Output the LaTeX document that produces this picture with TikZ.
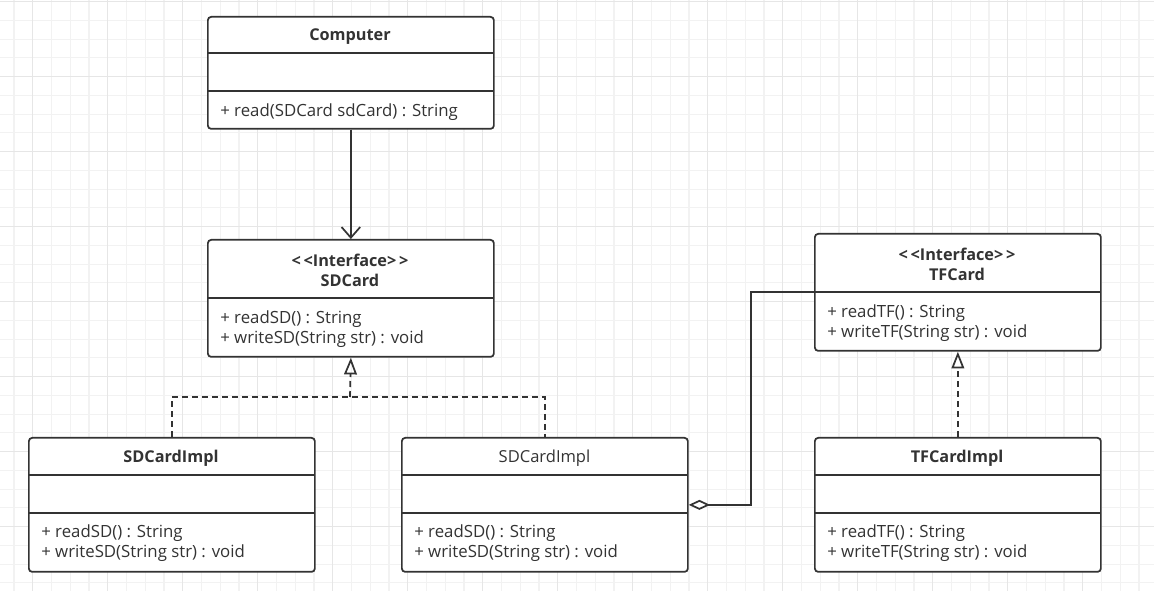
\documentclass[tikz,border=0pt]{standalone}
\usepackage{fontspec}
\setmainfont{Open Sans}
\usetikzlibrary{arrows.meta}
\definecolor{ln}{HTML}{333333}
\definecolor{gminor}{HTML}{F2F2F2}
\definecolor{gmajor}{HTML}{E6E6E6}
\begin{document}
\begin{tikzpicture}[x=0.75pt,y=-0.75pt,
  cls/.style={draw=ln, fill=white, line width=1.3pt, rounded corners=2.5pt, anchor=north west, minimum width=214.5pt, inner sep=0pt},
  sep/.style={draw=ln, line width=1.3pt},
  ttl/.style={font=\bfseries\fontsize{12.2}{15}\selectfont, text=ln, align=center, inner sep=0pt},
  ttln/.style={font=\fontsize{12.4}{15}\selectfont, text=ln, inner sep=0pt},
  mem/.style={font=\fontsize{12.6}{15}\selectfont, text=ln, align=left, anchor=west, inner sep=0pt},
  conn/.style={draw=ln, line width=1.3pt},
  real/.style={conn, dash pattern=on 4.5pt off 3pt},
  tri/.style={-{Triangle[open, length=12.5pt, width=9.5pt, line width=1.3pt]}},
  barb/.style={-{Straight Barb[length=8pt, width=14pt, line width=1.3pt]}},
  dia/.style={{Diamond[open, length=16pt, width=7.5pt, line width=1.3pt]}-},
  minor/.style={draw=gminor, line width=0.8pt},
  major/.style={draw=gmajor, line width=0.9pt}]
\useasboundingbox (0,0) rectangle (1154,591);
\fill[white] (0,0) rectangle (1154,591);
% grid
\foreach \i in {0,...,61} { \draw[minor] ({14+18.75*\i},0) -- ({14+18.75*\i},591); }
\foreach \i in {0,...,31} { \draw[minor] (0,{1.7+18.75*\i}) -- (1154,{1.7+18.75*\i}); }
\foreach \i in {0,...,15} { \draw[major] ({32.7+75*\i},0) -- ({32.7+75*\i},591); }
\foreach \i in {0,...,7} { \draw[major] (0,{1.7+75*\i}) -- (1154,{1.7+75*\i}); }

% Computer
\node[cls, minimum height=84pt] (comp) at (207,16) {};
\draw[sep] (207,53) -- (493,53);
\draw[sep] (207,91) -- (493,91);
\node[ttl] (compt) at (350,37) {Computer};
\node[mem] (compm) at (220,112.5) {+ read(SDCard sdCard) : String};

% SDCard
\node[cls, minimum height=87.75pt] (sd) at (207,239) {};
\draw[sep] (207,298) -- (493,298);
\node[ttl] (sdt) at (350,270) {<\,<Interface>\,>\\SDCard};
\node[mem] (sdm) at (220,329.5) {+ readSD() : String\\+ writeSD(String str) : void};

% TFCard
\node[cls, minimum height=87.75pt] (tf) at (814,233) {};
\draw[sep] (814,292) -- (1100,292);
\node[ttl] (tft) at (957,264) {<\,<Interface>\,>\\TFCard};
\node[mem] (tfm) at (827,323.5) {+ readTF() : String\\+ writeTF(String str) : void};

% SDCardImpl left
\node[cls, minimum height=100.5pt] (im1) at (28,437) {};
\draw[sep] (28,475) -- (314,475);
\draw[sep] (28,513) -- (314,513);
\node[ttl] (im1t) at (171,458) {SDCardImpl};
\node[mem] (im1m) at (41,543.5) {+ readSD() : String\\+ writeSD(String str) : void};

% SDCardImpl middle
\node[cls, minimum height=100.5pt] (im2) at (401,437) {};
\draw[sep] (401,475) -- (688,475);
\draw[sep] (401,513) -- (688,513);
\node[ttln] (im2t) at (544.5,458) {SDCardImpl};
\node[mem] (im2m) at (414,543.5) {+ readSD() : String\\+ writeSD(String str) : void};

% TFCardImpl
\node[cls, minimum height=100.5pt] (tfi) at (814,437) {};
\draw[sep] (814,475) -- (1100,475);
\draw[sep] (814,513) -- (1100,513);
\node[ttl] (tfit) at (957,458) {TFCardImpl};
\node[mem] (tfim) at (827,543.5) {+ readTF() : String\\+ writeTF(String str) : void};

% connectors
\draw[conn, barb] (comp.south) -- (sd.north);
\coordinate (j) at (350,397);
\draw[real] (im1.north) |- (j) -| (im2.north);
\draw[real, tri] (j) -- (sd.south);
\draw[real, tri] (tfi.north) -- (tf.south);
\coordinate (tfw) at (814,292);
\coordinate (bend) at (751,400);
\draw[conn, dia] (im2.east) -| (bend) |- (tfw);
\end{tikzpicture}
\end{document}
